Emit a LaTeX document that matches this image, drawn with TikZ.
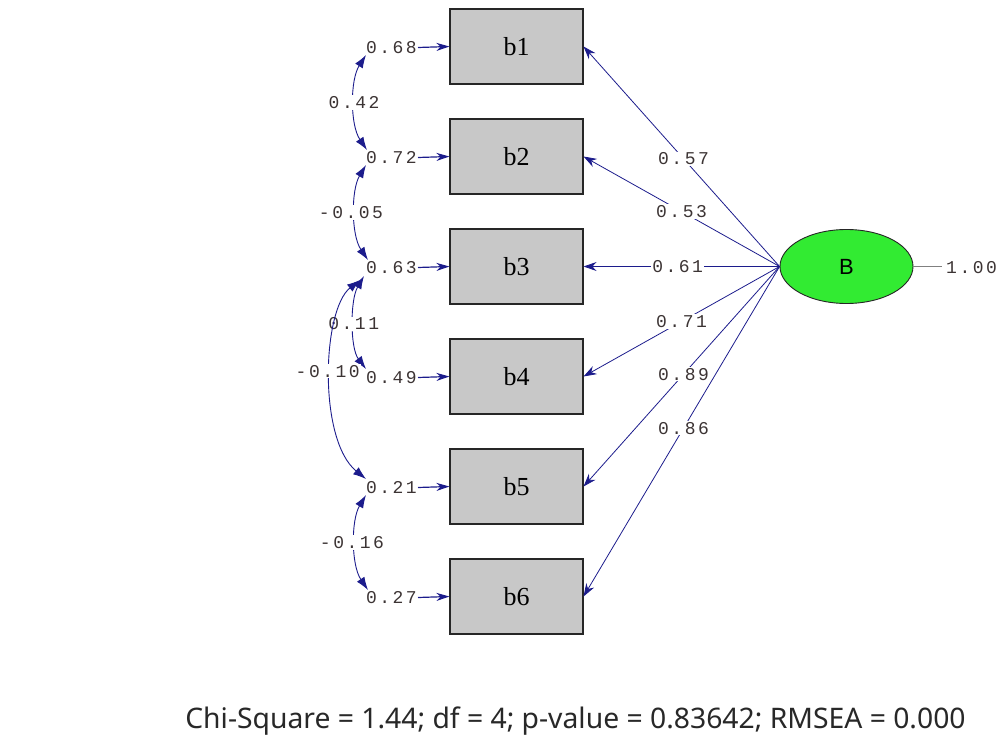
\documentclass[tikz,border=0pt]{standalone}
\usepackage{fontspec}
\setmainfont{Liberation Serif}
\newfontfamily\numfont[LetterSpace=14]{Liberation Mono}
\newfontfamily\capfont{Noto Sans}
\newfontfamily\latfont{Liberation Sans}
\usetikzlibrary{arrows.meta,shapes.geometric}
\definecolor{boxgray}{RGB}{200,200,200}
\definecolor{latgreen}{RGB}{50,235,50}
\definecolor{lnblue}{RGB}{28,28,140}
\definecolor{labcol}{RGB}{60,52,52}
\definecolor{capcol}{RGB}{40,40,40}
\begin{document}
\begin{tikzpicture}[x=1pt,y=-1pt,
  obs/.style={draw=black!85, fill=boxgray, line width=1.1pt, minimum width=133pt, minimum height=75pt, inner sep=0pt, font=\fontsize{26}{26}\selectfont},
  lat/.style={ellipse, draw=black!85, fill=latgreen, line width=0.9pt, minimum width=133pt, minimum height=74pt, inner sep=0pt, font=\latfont\fontsize{22}{22}\selectfont},
  load/.style={draw=lnblue, line width=0.8pt, -{Stealth[length=13pt,width=9pt]}},
  errarr/.style={draw=lnblue, line width=1.2pt, -{Stealth[length=13pt,width=8pt]}},
  cov/.style={draw=lnblue, line width=0.9pt, {Latex[length=13pt,width=9pt]}-{Latex[length=13pt,width=9pt]}},
  lab/.style={font=\numfont\fontsize{18}{18}\selectfont, text=labcol, inner sep=1pt},
  gaplab/.style={lab, fill=white}
]
\useasboundingbox (0,0) rectangle (1001,743);

% observed variables
\node[obs] (b1) at (516.5,46.5) {b1};
\node[obs] (b2) at (516.5,156.5) {b2};
\node[obs] (b3) at (516.5,266.5) {b3};
\node[obs] (b4) at (516.5,376.5) {b4};
\node[obs] (b5) at (516.5,486.5) {b5};
\node[obs] (b6) at (516.5,596.5) {b6};

% latent
\node[lat] (B) at (846.5,266.5) {B};
\coordinate (vend) at (942,266.5);
\draw[gray, line width=0.8pt] (B.east) -- (vend);
\node[lab, anchor=west] (v) at (945,268) {1.00};

% loadings
\draw[load] (B.west) -- node[gaplab, pos=0.49] (l1) {0.57} (b1.east);
\draw[load] (B.west) -- node[gaplab] (l2) {0.53} (b2.east);
\draw[load] (B.west) -- node[gaplab, pos=0.52] (l3) {0.61} (b3.east);
\draw[load] (B.west) -- node[gaplab] (l4) {0.71} (b4.east);
\draw[load] (B.west) -- node[gaplab, pos=0.49] (l5) {0.89} (b5.east);
\draw[load] (B.west) -- node[gaplab, pos=0.49] (l6) {0.86} (b6.east);

% error variances
\node[lab, anchor=east] (e1) at (418,47.5) {0.68};
\node[lab, anchor=east] (e2) at (418,157.5) {0.72};
\node[lab, anchor=east] (e3) at (418,267.5) {0.63};
\node[lab, anchor=east] (e4) at (418,377.5) {0.49};
\node[lab, anchor=east] (e5) at (418,487.5) {0.21};
\node[lab, anchor=east] (e6) at (418,597.5) {0.27};
\foreach \i in {1,...,6}{\draw[errarr] (e\i.east) -- (b\i.west);}

% covariance end points
\coordinate (c1s) at (366,55);
\coordinate (c2n) at (367,150);
\coordinate (c2s) at (366,165);
\coordinate (c3n) at (368,260);
\coordinate (c3s) at (364,276);
\coordinate (c3t) at (360,280);
\coordinate (c4n) at (366,369);
\coordinate (c5n) at (366,479);
\coordinate (c5s) at (366,495);
\coordinate (c6n) at (368,590);

\draw[cov] (c1s) .. controls (350,80) and (350,125) .. node[gaplab] (k12) {0.42} (c2n);
\draw[cov] (c2s) .. controls (351,190) and (351,235) .. node[gaplab, xshift=-4pt] (k23) {-0.05} (c3n);
\draw[cov] (c3s) .. controls (350,300) and (350,348) .. node[gaplab] (k34) {0.11} (c4n);
\draw[cov] (c3t) .. controls (322,310) and (318,440) .. node[gaplab, pos=0.48, xshift=-3pt] (k35) {-0.10} (c5n);
\draw[cov] (c5s) .. controls (351,520) and (351,565) .. node[gaplab, xshift=-3pt] (k56) {-0.16} (c6n);

% fit statistics
\node[font=\capfont\fontsize{28.3}{28.3}\selectfont, text=capcol] (fit) at (575.5,721) {Chi-Square = 1.44; df = 4; p-value = 0.83642; RMSEA = 0.000};
\end{tikzpicture}
\end{document}
